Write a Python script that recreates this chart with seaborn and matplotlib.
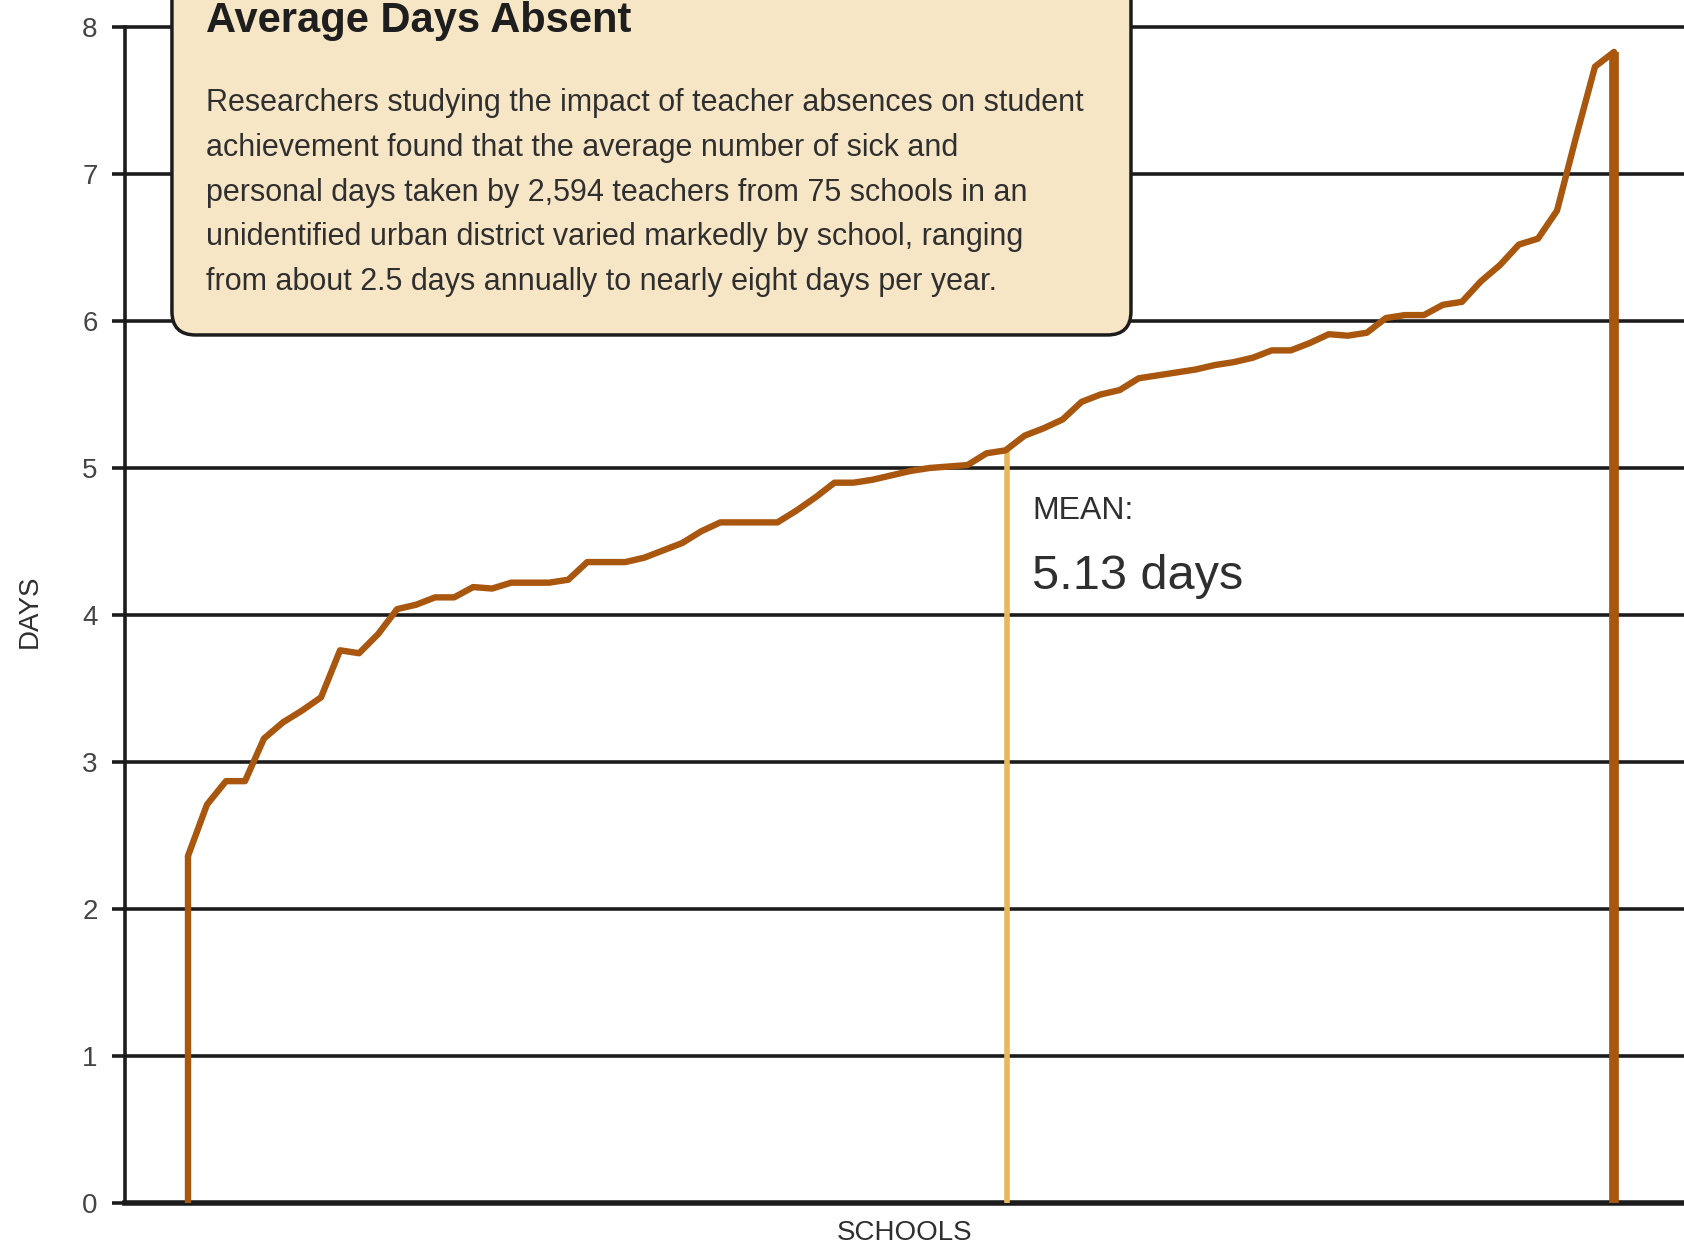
import numpy as np
import matplotlib
matplotlib.use("Agg")
import matplotlib.pyplot as plt
import seaborn as sns
from matplotlib.patches import FancyBboxPatch

# Average sick + personal days per school, sorted low to high
days_absent = [2.36, 2.71, 2.87, 2.87, 3.16, 3.27, 3.35, 3.44, 3.76, 3.74,
               3.87, 4.04, 4.07, 4.12, 4.12, 4.19, 4.18, 4.22, 4.22, 4.22,
               4.24, 4.36, 4.36, 4.36, 4.39, 4.44, 4.49, 4.57, 4.63, 4.63,
               4.63, 4.63, 4.71, 4.80, 4.90, 4.90, 4.92, 4.95, 4.98, 5.00,
               5.01, 5.02, 5.10, 5.12, 5.22, 5.27, 5.33, 5.45, 5.50, 5.53,
               5.61, 5.63, 5.65, 5.67, 5.70, 5.72, 5.75, 5.80, 5.80, 5.85,
               5.91, 5.90, 5.92, 6.02, 6.04, 6.04, 6.11, 6.13, 6.27, 6.38,
               6.52, 6.56, 6.75, 7.25, 7.73, 7.83]
school_rank = list(range(len(days_absent)))
mean_days = 5.13
y_ticks = [0, 1, 2, 3, 4, 5, 6, 7, 8]

title = "Average Days Absent"
body_lines = [
    "Researchers studying the impact of teacher absences on student",
    "achievement found that the average number of sick and",
    "personal days taken by 2,594 teachers from 75 schools in an",
    "unidentified urban district varied markedly by school, ranging",
    "from about 2.5 days annually to nearly eight days per year.",
]
mean_label = "MEAN:"
mean_value_label = "5.13 days"

BROWN = "#A9570F"
GOLD = "#E9B85C"
BOX_FILL = "#F7E6C6"
INK = "#1c1c1c"
TEXT = "#2f2f2f"

sns.set_theme(style="white")
plt.rcParams["font.family"] = ["Liberation Sans", "DejaVu Sans"]

fig = plt.figure(figsize=(16.84, 12.48), dpi=100)
ax = fig.add_axes([0.074, 0.036, 0.926, 0.9483])

# main curve plus the drops to zero at both ends
sns.lineplot(x=school_rank, y=days_absent, ax=ax, color=BROWN, linewidth=4.6, zorder=4)
ax.vlines(school_rank[0], 0, days_absent[0], color=BROWN, linewidth=4.6, zorder=4)
ax.vlines(school_rank[-1], 0, days_absent[-1], color=BROWN, linewidth=7, zorder=4)

# mean marker where the curve crosses the mean
days_arr = np.array(days_absent)
k = int(np.argmax(days_arr >= mean_days))
mean_x = school_rank[k - 1] + (mean_days - days_arr[k - 1]) / (days_arr[k] - days_arr[k - 1])
ax.vlines(mean_x, 0, mean_days, color=GOLD, linewidth=4, zorder=3)
ax.annotate(mean_label, xy=(mean_x, 4.65), xytext=(18, 0), textcoords="offset points",
            fontsize=23, color=TEXT, va="baseline", ha="left")
ax.annotate(mean_value_label, xy=(mean_x, 4.18), xytext=(18, 0), textcoords="offset points",
            fontsize=35, color=TEXT, va="baseline", ha="left")

ax.set_xlim(-3.33, 78.68)
ax.set_ylim(0, 8.05)
ax.set_yticks(y_ticks)
ax.set_xticks([])
ax.yaxis.grid(True, color=INK, linewidth=2.6)
ax.xaxis.grid(False)
ax.set_axisbelow(True)
ax.tick_params(axis="y", left=True, length=9.5, width=2.6, color=INK,
               labelsize=20, labelcolor="#444444", pad=10)

for side in ["top", "right"]:
    ax.spines[side].set_visible(False)
ax.spines["left"].set_color(INK)
ax.spines["left"].set_linewidth(2.6)
ax.spines["left"].set_bounds(0, 8)
ax.spines["bottom"].set_color(INK)
ax.spines["bottom"].set_linewidth(4)

ax.set_ylabel("DAYS", fontsize=20, color=TEXT)
ax.yaxis.set_label_coords(-0.0523, 0.5)
ax.set_xlabel("SCHOOLS", fontsize=20, color=TEXT)
ax.xaxis.set_label_coords(0.5, -0.014)

# explanatory box in the upper left, running off the top of the figure
box = FancyBboxPatch((0.1021, 0.7316), 0.5695, 0.35,
                     boxstyle="round,pad=0,rounding_size=0.014",
                     mutation_aspect=1684 / 1248,
                     transform=fig.transFigure, facecolor=BOX_FILL,
                     edgecolor=INK, linewidth=2.5, zorder=5, clip_on=False)
fig.patches.append(box)

fig.text(0.1223, 0.9745, title, fontsize=30, fontweight="bold", color="#1e1e1e",
         va="baseline", ha="left", zorder=6)
for i, line in enumerate(body_lines):
    fig.text(0.1223, 0.911 - i * 0.03586, line, fontsize=22, color=TEXT,
             va="baseline", ha="left", zorder=6)

plt.savefig("out.png", dpi=100)
